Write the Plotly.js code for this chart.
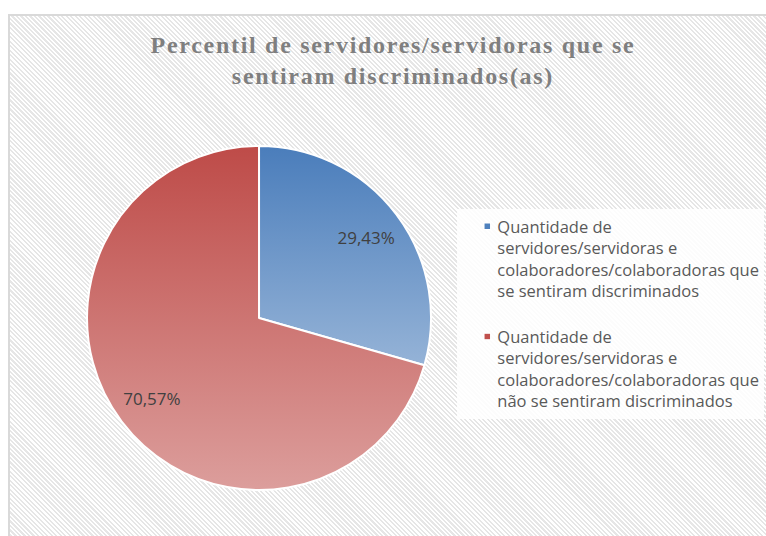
<!DOCTYPE html>
<html>
<head>
<meta charset="utf-8">
<script src="https://cdn.plot.ly/plotly-3.0.1.min.js"></script>
<style>
  body { margin: 0; background: #ffffff; }
  #wrap { position: relative; width: 766px; height: 536px; overflow: hidden; }
  /* chart area with the diagonal hatch, like the Excel chart background */
  #hatch {
    position: absolute; left: 8px; top: 14px; width: 780px; height: 540px;
    border: 2px solid #d9d9d9;
    background: repeating-linear-gradient(45deg, #ffffff 0px, #ffffff 1.6px, #e6e6e6 1.6px, #e6e6e6 3.2px);
  }
  #plot { position: absolute; left: 0; top: 0; width: 766px; height: 536px; }
  /* Cambria is wider than Liberation Serif */
  #plot .gtitle { letter-spacing: 1.7px; }
</style>
</head>
<body>
<div id="wrap">
  <div id="hatch"></div>
  <div id="plot"></div>
</div>
<script>
// data
const labels = [
    'Quantidade de<br>servidores/servidoras e<br>colaboradores/colaboradoras que<br>se sentiram discriminados<br> ',
    'Quantidade de<br>servidores/servidoras e<br>colaboradores/colaboradoras que<br>não se sentiram discriminados'
];
const values = [29.43, 70.57];
const sliceColors = ['#4f81bd', '#c0504d'];
// top / bottom colours of the gradient in each slice
const gradTop = ['#4a7dbb', '#be4b48'];
const gradBottom = ['#95b3d7', '#dc9e9c'];

var trace = {
    type: 'pie',
    labels: labels,
    values: values,
    sort: false,
    direction: 'clockwise',
    rotation: 0,
    marker: { colors: sliceColors, line: { color: '#ffffff', width: 2 } },
    texttemplate: '%{value:.2f}%',
    textposition: 'inside',
    insidetextorientation: 'horizontal',
    textfont: { family: 'Open Sans, sans-serif', size: 17, color: '#404040' },
    hoverinfo: 'none',
    domain: { x: [0.1136, 0.5627], y: [0.0858, 0.7276] }
};

var layout = {
    width: 766,
    height: 536,
    margin: { l: 0, r: 0, t: 0, b: 0, autoexpand: false },
    paper_bgcolor: 'rgba(0,0,0,0)',
    plot_bgcolor: 'rgba(0,0,0,0)',
    separators: ',.',
    title: {
        text: 'Percentil de servidores/servidoras que se<br>sentiram discriminados(as)',
        font: { family: 'Liberation Serif, serif', size: 24, color: '#7f7f7f', weight: 'bold' },
        x: 0.513, xanchor: 'center',
        y: 0.902, yanchor: 'top'
    },
    showlegend: true,
    legend: {
        x: 0.597, xanchor: 'left',
        y: 0.61, yanchor: 'top',
        valign: 'top',
        bgcolor: 'rgba(255,255,255,0.85)',
        font: { family: 'Open Sans, sans-serif', size: 16.5, color: '#595959' }
    }
};

Plotly.newPlot('plot', [trace], layout, { displayModeBar: false, staticPlot: true }).then(function(gd) {
    // give each slice the vertical gradient Excel uses
    var svg = gd.querySelector('.main-svg');
    var defs = svg.querySelector('defs');
    var ns = 'http://www.w3.org/2000/svg';
    for (let i = 0; i < values.length; i++) {
        let g = document.createElementNS(ns, 'linearGradient');
        g.setAttribute('id', 'sliceGrad' + i);
        g.setAttribute('x1', '0'); g.setAttribute('y1', '0');
        g.setAttribute('x2', '0'); g.setAttribute('y2', '1');
        let s1 = document.createElementNS(ns, 'stop');
        s1.setAttribute('offset', '0'); s1.setAttribute('stop-color', gradTop[i]);
        let s2 = document.createElementNS(ns, 'stop');
        s2.setAttribute('offset', '1'); s2.setAttribute('stop-color', gradBottom[i]);
        g.appendChild(s1); g.appendChild(s2);
        defs.appendChild(g);
    }
    var cd0 = gd.calcdata[0][0];
    var svgBox = svg.getBoundingClientRect();
    var total = values.reduce((a, b) => a + b, 0);
    var acc = 0;
    gd.querySelectorAll('.pielayer .slice').forEach(function(sl, i) {
        let p = sl.querySelector('path.surface');
        if (p) p.style.fill = 'url(#sliceGrad' + i + ')';
        // push the label out towards the rim, like Excel's best fit
        let mid = (acc + values[i] / 2) / total * 2 * Math.PI;
        acc += values[i];
        let tx = cd0.cx + 0.78 * cd0.r * Math.sin(mid);
        let ty = cd0.cy - 0.78 * cd0.r * Math.cos(mid);
        let t = sl.querySelector('text.slicetext');
        if (t) {
            let b = t.getBoundingClientRect();
            let dx = tx - (b.left + b.width / 2 - svgBox.left);
            let dy = ty - (b.top + b.height / 2 - svgBox.top);
            t.setAttribute('transform', 'translate(' + dx + ',' + dy + ') ' + (t.getAttribute('transform') || ''));
        }
    });
    // smaller legend squares placed next to the text
    gd.querySelectorAll('.legend .legendpoints path').forEach(function(pt) {
        pt.setAttribute('transform', 'translate(30,0) scale(0.55)');
    });
});
</script>
</body>
</html>
